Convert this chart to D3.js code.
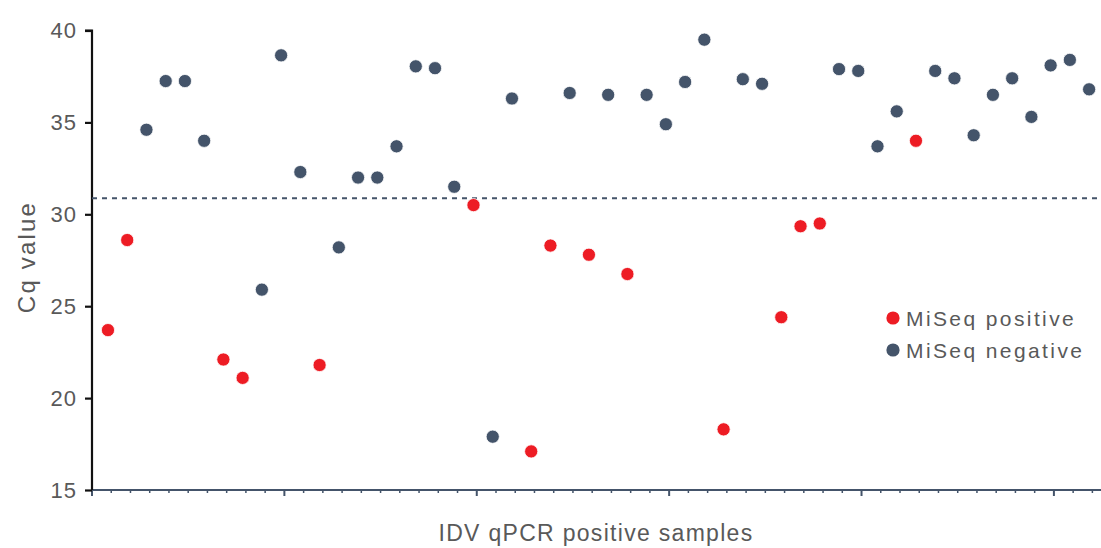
<!DOCTYPE html>
<html>
<head>
<meta charset="utf-8">
<script src="https://cdn.jsdelivr.net/npm/d3@7/dist/d3.min.js"></script>
<style>
  body { margin: 0; background: #fff; }
  text { font-family: "Liberation Sans", Arial, sans-serif; fill: #595959; }
</style>
</head>
<body>
<div id="chart"></div>
<script>
// Cq value of each sample, in order along the x axis
const cqValues = [
    23.7, 28.6, 34.6, 37.25, 37.25, 34.0, 22.1, 21.1, 25.9, 38.65,
    32.3, 21.8, 28.2, 32.0, 32.0, 33.7, 38.05, 37.95, 31.5, 30.5,
    17.9, 36.3, 17.1, 28.3, 36.6, 27.8, 36.5, 26.75, 36.5, 34.9,
    37.2, 39.5, 18.3, 37.35, 37.1, 24.4, 29.35, 29.5, 37.9, 37.8,
    33.7, 35.6, 34.0, 37.8, 37.4, 34.3, 36.5, 37.4, 35.3, 38.1,
    38.4, 36.8
];
// true = MiSeq positive, false = MiSeq negative
const miseqPositive = [
    true, true, false, false, false, false, true, true, false, false,
    false, true, false, false, false, false, false, false, false, true,
    false, false, true, true, false, true, false, true, false, false,
    false, false, true, false, false, true, true, true, false, false,
    false, false, true, false, false, false, false, false, false, false,
    false, false
];
const cutoff = 30.87;
const yTicks = [15, 20, 25, 30, 35, 40];
const legendLabels = ["MiSeq positive", "MiSeq negative"];

const width = 1101, height = 548;
const colors = { pos: "#ED1C24", neg: "#44546A" };

const svg = d3.select("#chart")
    .append("svg")
    .attr("width", width)
    .attr("height", height);

// x: sample slots, point sits 0.83 slot from the start of its slot
const xScale = d3.scaleLinear()
    .domain([0, 52.5])
    .range([92, 1102]);
const yScale = d3.scaleLinear()
    .domain([15, 40])
    .range([490, 30.5]);

// x axis (minor ticks every sample, major every 10)
const xAxis = svg.append("g");
xAxis.append("line")
    .attr("x1", xScale(0)).attr("x2", width)
    .attr("y1", yScale(15)).attr("y2", yScale(15))
    .attr("stroke", colors.neg)
    .attr("stroke-width", 2);
xAxis.selectAll(".xtick")
    .data(d3.range(0, 53))
    .enter()
    .append("line")
    .attr("class", "xtick")
    .attr("x1", (d) => xScale(d)).attr("x2", (d) => xScale(d))
    .attr("y1", yScale(15))
    .attr("y2", (d) => yScale(15) + (d % 10 === 0 ? 6 : 3))
    .attr("stroke", colors.neg)
    .attr("stroke-width", (d) => d % 10 === 0 ? 2 : 1.5);

// y axis
const yAxis = svg.append("g")
    .attr("transform", `translate(${xScale(0)},0)`)
    .call(d3.axisLeft(yScale).tickValues(yTicks).tickSize(7).tickPadding(8));
yAxis.select(".domain")
    .attr("stroke", "#111")
    .attr("stroke-width", 2.2)
    .attr("d", `M0,${yScale(15)}V${yScale(40)}H-7`);
yAxis.selectAll(".tick line").attr("stroke", "#111").attr("stroke-width", 2.2);
yAxis.selectAll(".tick text")
    .style("font-size", "22px")
    .style("letter-spacing", "1px")
    .style("font-family", "Liberation Sans, Arial, sans-serif")
    .attr("fill", "#595959");

// threshold line
svg.append("line")
    .attr("x1", xScale(0)).attr("x2", width)
    .attr("y1", yScale(cutoff)).attr("y2", yScale(cutoff))
    .attr("stroke", colors.neg)
    .attr("stroke-width", 2)
    .attr("stroke-dasharray", "5,5");

// points
svg.selectAll(".pt")
    .data(cqValues)
    .enter()
    .append("circle")
    .attr("class", "pt")
    .attr("cx", (d, i) => xScale(i + 0.83))
    .attr("cy", (d) => yScale(d))
    .attr("r", 6.6)
    .attr("fill", (d, i) => miseqPositive[i] ? colors.pos : colors.neg)
    .attr("stroke", "#fff")
    .attr("stroke-width", 0.8);

// axis titles
svg.append("text")
    .attr("transform", "translate(35,257) rotate(-90)")
    .attr("text-anchor", "middle")
    .style("font-size", "24px")
    .style("letter-spacing", "2.2px")
    .text("Cq value");
svg.append("text")
    .attr("x", 596)
    .attr("y", 541)
    .attr("text-anchor", "middle")
    .style("font-size", "23px")
    .style("letter-spacing", "1.3px")
    .text("IDV qPCR positive samples");

// legend
const legend = svg.selectAll(".legend")
    .data(legendLabels)
    .enter()
    .append("g")
    .attr("class", "legend")
    .attr("transform", (d, i) => `translate(893,${318 + i * 32})`);
legend.append("circle")
    .attr("r", 6.6)
    .attr("fill", (d, i) => i === 0 ? colors.pos : colors.neg);
legend.append("text")
    .attr("x", 13)
    .attr("y", 7.5)
    .style("font-size", "21px")
    .style("letter-spacing", "2.4px")
    .text((d) => d);
</script>
</body>
</html>
